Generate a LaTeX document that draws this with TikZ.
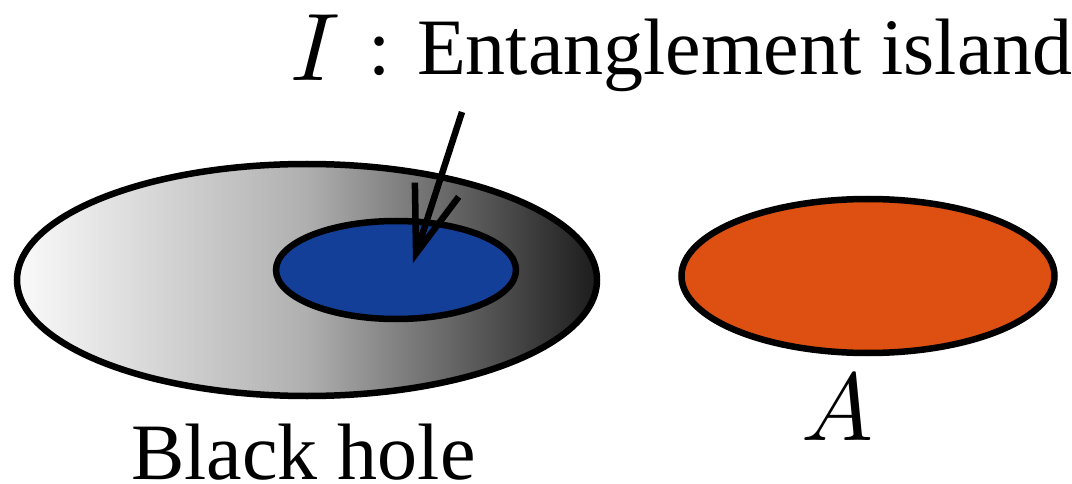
\documentclass[tikz,border=0pt]{standalone}
\usepackage{graphicx}
\usepackage{fontspec}
\setmainfont{Liberation Serif}
\usetikzlibrary{arrows.meta,shapes.geometric}
\definecolor{islandblue}{RGB}{20,63,152}
\definecolor{regionorange}{RGB}{221,80,18}
\definecolor{bhleft}{RGB}{250,250,250}
\definecolor{bhmid}{RGB}{175,175,175}
\definecolor{bhright}{RGB}{28,28,28}
\newcommand{\bigmath}[1]{\scalebox{9.6}{$#1$}}
\newcommand{\bigtext}[1]{{\fontsize{80}{90}\selectfont #1}}
\tikzset{
  region/.style={draw=black, line width=6.5pt},
  lbl/.style={inner sep=0pt},
  pointer/.style={line width=6.5pt, -{Straight Barb[length=67pt,width=46pt,line width=6.5pt]}}
}
\begin{document}
\begin{tikzpicture}[x=1pt,y=-1pt]
\useasboundingbox (0,0) rectangle (1072,484);
\node[region, ellipse, minimum width=580pt, minimum height=232pt, inner sep=0pt,
      left color=bhleft, right color=bhright, middle color=bhmid, shading angle=90] (bh) at (307,280) {};
\node[region, ellipse, fill=islandblue, minimum width=240pt, minimum height=98pt, inner sep=0pt] (island) at (396,270) {};
\node[region, ellipse, fill=regionorange, minimum width=373pt, minimum height=154pt, inner sep=0pt] (A) at (868,276) {};
\node[lbl, anchor=base] (Ilbl) at (315,81) {\bigmath{I}};
\node[lbl, anchor=base west] (title) at (368,75) {\bigtext{: Entanglement island}};
\coordinate (arrstart) at (462,112);
\coordinate (arrtip) at (413,263);
\draw[pointer] (arrstart) -- (arrtip);
\node[lbl, anchor=base west] (bhlbl) at (131,479) {\bigtext{Black hole}};
\node[lbl, anchor=base] (Albl) at (837,440) {\bigmath{A}};
\end{tikzpicture}
\end{document}
